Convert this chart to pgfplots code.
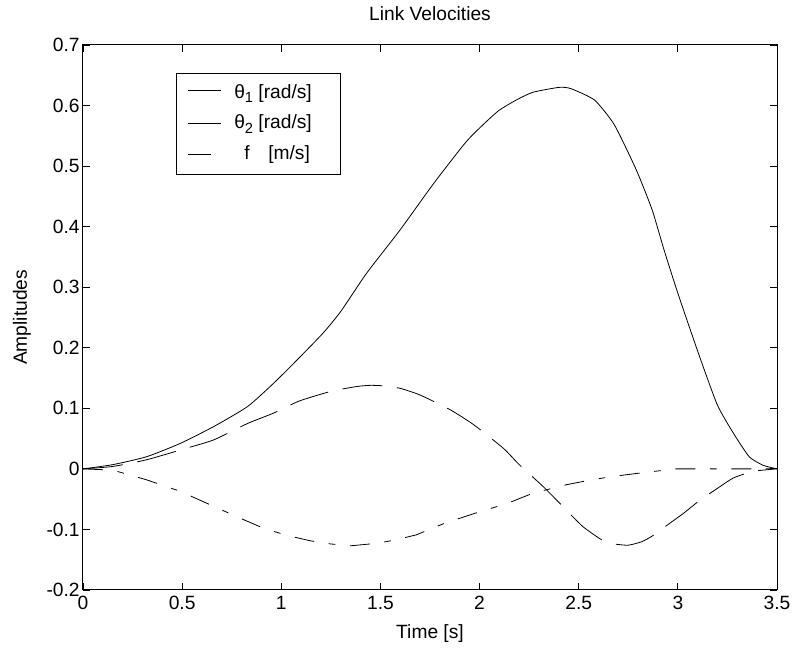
\documentclass[border=0pt]{standalone}
\usepackage{pgfplots}
\pgfplotsset{compat=1.18}
\usepackage{fontspec}
\setmainfont{Liberation Sans}

\newcommand{\sub}[1]{\raisebox{-0.45ex}{\fontsize{11}{11}\selectfont #1}}

\begin{document}
\begin{tikzpicture}

\begin{axis}[%
width=520.5pt,
height=408.75pt,
at={(0pt,0pt)},
anchor=south west,
scale only axis,
font=\fontsize{14.4}{17}\selectfont,
xmin=0, xmax=3.5,
ymin=-0.2, ymax=0.7,
xtick={0,0.5,1,1.5,2,2.5,3,3.5},
xticklabels={0,0.5,1,1.5,2,2.5,3,3.5},
ytick={-0.2,-0.1,0,0.1,0.2,0.3,0.4,0.5,0.6,0.7},
yticklabels={-0.2,-0.1,0,0.1,0.2,0.3,0.4,0.5,0.6,0.7},
tick align=inside,
major tick length=5pt,
tick style={black, line width=0.6pt},
axis line style={line width=0.75pt},
xticklabel style={yshift=-1pt},
yticklabel style={xshift=1pt},
xlabel={Time [s]},
ylabel={Amplitudes},
title={Link Velocities},
xlabel style={at={(axis description cs:0.5,-0.0807)}, anchor=center},
ylabel style={at={(axis description cs:-0.088,0.5)}, anchor=center},
title style={at={(axis description cs:0.5,1.042)}, anchor=center},
legend style={at={(rel axis cs:0.134,0.9486)}, anchor=north west, draw=black,
  line width=0.75pt, font=\fontsize{14.4}{17}\selectfont, legend cell align=left,
  inner xsep=8.25pt, inner ysep=7.5pt, row sep=8pt,
  nodes={inner sep=0pt, text height=11pt, text depth=4pt}},
]

% theta_1
\addplot[black, line width=0.6pt, solid, smooth, tension=0.35,
  legend image code/.code={\draw[solid, line width=0.6pt] (0pt,2pt) -- (24.75pt,2pt);}]
table[row sep=crcr] {%
x y\\
0 0\\
0.15 0.007\\
0.32 0.020\\
0.49 0.042\\
0.66 0.070\\
0.83 0.103\\
0.96 0.141\\
1.08 0.180\\
1.21 0.224\\
1.30 0.260\\
1.43 0.323\\
1.60 0.395\\
1.77 0.472\\
1.94 0.543\\
2.09 0.590\\
2.19 0.610\\
2.27 0.622\\
2.40 0.630\\
2.46 0.628\\
2.58 0.609\\
2.68 0.568\\
2.79 0.494\\
2.87 0.428\\
2.93 0.362\\
3.00 0.290\\
3.11 0.185\\
3.20 0.105\\
3.28 0.059\\
3.36 0.020\\
3.43 0.006\\
3.5 0\\
};
\addlegendentry{\hspace{9.75pt}θ\sub{1} [rad/s]\rule{13.5pt}{0pt}}

% theta_2
\addplot[black, line width=0.6pt, dash pattern=on 30pt off 11pt, smooth, tension=0.35,
  legend image code/.code={\draw[solid, line width=0.6pt] (0pt,0.5pt) -- (24.75pt,0.5pt);}]
table[row sep=crcr] {%
x y\\
0 0\\
0.15 0.004\\
0.32 0.015\\
0.52 0.034\\
0.66 0.048\\
0.83 0.075\\
0.96 0.092\\
1.09 0.112\\
1.25 0.128\\
1.38 0.136\\
1.45 0.138\\
1.52 0.137\\
1.60 0.133\\
1.70 0.122\\
1.85 0.098\\
1.97 0.073\\
2.12 0.034\\
2.20 0.007\\
2.32 -0.029\\
2.42 -0.062\\
2.52 -0.095\\
2.62 -0.118\\
2.68 -0.124\\
2.75 -0.126\\
2.82 -0.120\\
2.88 -0.109\\
2.95 -0.092\\
3.03 -0.073\\
3.11 -0.052\\
3.20 -0.032\\
3.28 -0.015\\
3.38 -0.004\\
3.5 0\\
};
\addlegendentry{\hspace{9.75pt}θ\sub{2} [rad/s]}

% f
\addplot[black, line width=0.6pt, dash pattern=on 15pt off 11pt on 5pt off 11pt,
  legend image code/.code={\draw[solid, line width=0.6pt] (0pt,0pt) -- (17pt,0pt);}]
table[row sep=crcr] {%
x y\\
0 0\\
0.15 -0.002\\
0.32 -0.018\\
0.49 -0.037\\
0.66 -0.062\\
0.79 -0.081\\
0.91 -0.098\\
1.03 -0.110\\
1.15 -0.119\\
1.25 -0.124\\
1.35 -0.127\\
1.48 -0.123\\
1.58 -0.117\\
1.68 -0.109\\
1.83 -0.089\\
1.98 -0.073\\
2.14 -0.057\\
2.27 -0.040\\
2.44 -0.026\\
2.55 -0.019\\
2.66 -0.013\\
2.83 -0.006\\
2.99 0\\
3.5 0\\
};
\addlegendentry{\hspace{9.75pt}\hspace{7.5pt}f\hspace{14pt}[m/s]}

\end{axis}

\pgfresetboundingbox
\path[use as bounding box] (-62.25pt,-44.25pt) rectangle (534pt,442.5pt);
\end{tikzpicture}
\end{document}
